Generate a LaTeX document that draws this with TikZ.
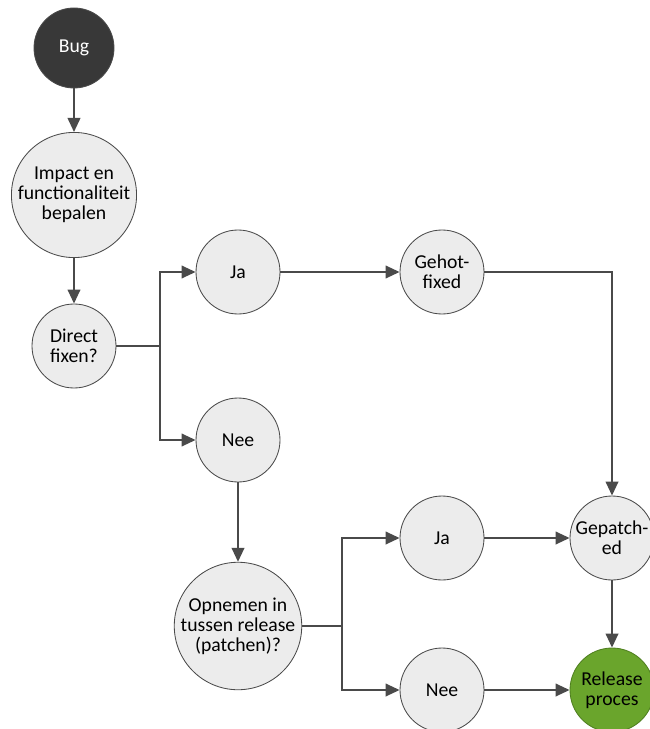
\documentclass[tikz,border=0pt]{standalone}
\usepackage{fontspec}
\setmainfont{Carlito}
\usetikzlibrary{arrows.meta}
\definecolor{bugfill}{HTML}{383838}
\definecolor{stepfill}{HTML}{ECECEC}
\definecolor{edge}{HTML}{4A4A4A}
\definecolor{relgreen}{HTML}{6AA52C}
\definecolor{relborder}{HTML}{4F7F20}

\begin{document}
\begin{tikzpicture}[
  every node/.style={font=\fontsize{14}{14.2}\selectfont, align=center},
  stepnode/.style={circle, draw=edge, fill=stepfill, line width=0.6pt, minimum size=2.1cm, inner sep=0pt},
  bignode/.style={stepnode, minimum size=3.1cm},
  arr/.style={draw=edge, line width=1.4pt, -{Triangle[length=10pt,width=9pt]}},
  ln/.style={draw=edge, line width=1.4pt}
]
\useasboundingbox (0,0) rectangle (16.225,-18.225);
\node[stepnode, fill=bugfill, text=white, minimum size=2cm] (bug) at (1.85,-1.2) {Bug};
\node[bignode] (impact) at (1.85,-4.875) {Impact en\\functionaliteit\\bepalen};
\node[stepnode] (direct) at (1.85,-8.65) {Direct\\fixen?};
\node[stepnode] (ja1) at (5.95,-6.8) {Ja};
\node[stepnode] (nee1) at (5.95,-11.0) {Nee};
\node[stepnode] (gehot) at (11.05,-6.8) {Gehot-\\fixed};
\node[bignode] (opnemen) at (5.95,-15.65) {Opnemen in\\tussen release\\(patchen)?};
\node[stepnode] (ja2) at (11.05,-13.45) {Ja};
\node[stepnode] (nee2) at (11.05,-17.25) {Nee};
\node[stepnode] (gepatched) at (15.3,-13.45) {Gepatch-\\ed};
\node[stepnode, fill=relgreen, draw=relborder] (release) at (15.3,-17.25) {Release\\proces};
\coordinate (split1) at (4.0,-8.65);
\coordinate (split2) at (8.55,-15.65);
\draw[arr] (bug) -- (impact);
\draw[arr] (impact) -- (direct);
\draw[ln] (direct) -- (split1);
\draw[arr] (split1) |- (ja1);
\draw[arr] (split1) |- (nee1);
\draw[arr] (ja1) -- (gehot);
\draw[arr] (gehot) -| (gepatched);
\draw[arr] (nee1) -- (opnemen);
\draw[ln] (opnemen) -- (split2);
\draw[arr] (split2) |- (ja2);
\draw[arr] (split2) |- (nee2);
\draw[arr] (ja2) -- (gepatched);
\draw[arr] (nee2) -- (release);
\draw[arr] (gepatched) -- (release);
\end{tikzpicture}
\end{document}
